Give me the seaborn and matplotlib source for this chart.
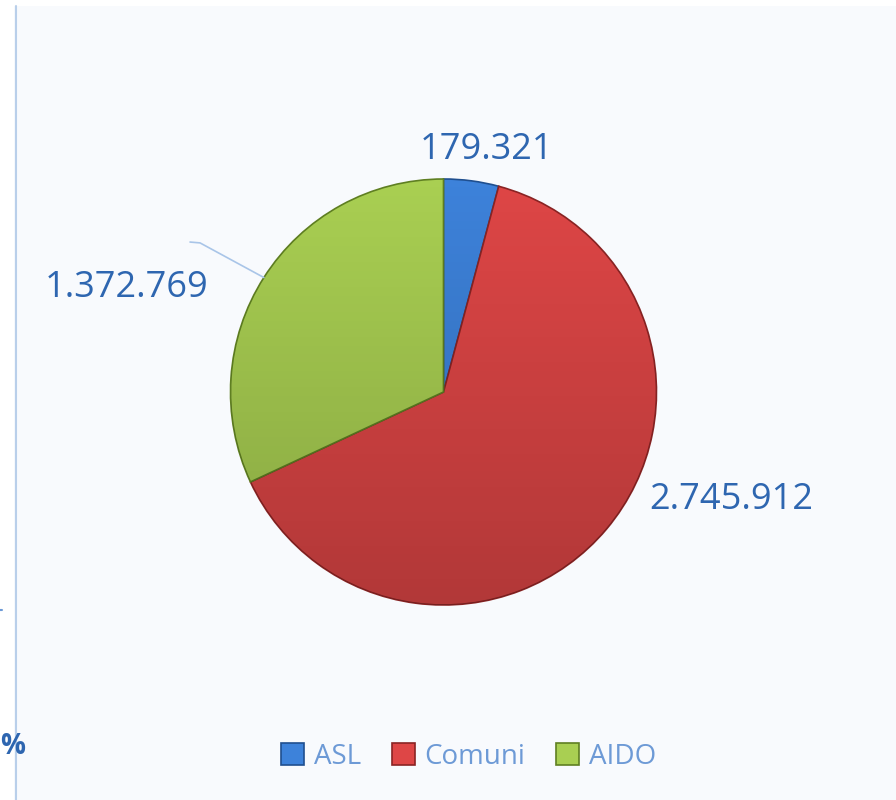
import matplotlib
matplotlib.use("Agg")
import matplotlib.pyplot as plt
import matplotlib.patches as mpatches
import seaborn as sns
import numpy as np

# Valori
categorie = ["ASL", "Comuni", "AIDO"]
valori = [179321, 2745912, 1372769]
etichette = ["179.321", "2.745.912", "1.372.769"]
colori = ["#3d82da", "#de4646", "#a9cf52"]
bordi = ["#1f4f8f", "#8a2424", "#5f7f22"]

sns.set_theme(style="white")
plt.rcParams['font.family'] = ['Open Sans', 'DejaVu Sans']

fig = plt.figure(figsize=(8.96, 8), dpi=100)
fig.patch.set_facecolor("white")

# pannello di sfondo e linea a sinistra
fig.patches.append(mpatches.Rectangle((14 / 896, 0), 1, 1 - 6 / 800, transform=fig.transFigure,
                                      facecolor="#f8fafd", edgecolor="none", zorder=-5))
fig.lines.append(plt.Line2D([15.5 / 896, 15.5 / 896], [0, 1 - 6 / 800], transform=fig.transFigure,
                            color="#b9cfea", lw=1.5, zorder=-4))
fig.lines.append(plt.Line2D([0, 2 / 896], [1 - 610 / 800, 1 - 610 / 800], transform=fig.transFigure,
                            color="#6d9ad6", lw=1.5, zorder=-4))
fig.text(13 / 896, 1 - 746 / 800, "%", ha="center", va="center", fontsize=20,
         fontweight="bold", color="#2e66b0")

ax = fig.add_axes([0, 0, 1, 1])
ax.set_facecolor("none")

r_px = 213
cx, cy = 443.5, 408  # centro della torta (px, dal basso)

wedges, _ = ax.pie(valori, colors=colori, startangle=90, counterclock=False,
                   wedgeprops=dict(linewidth=1.2))
for w, b in zip(wedges, bordi):
    w.set_edgecolor(b)

# ombreggiatura verticale (più scuro in basso)
gy = np.linspace(0, 1, 256)[:, None] * np.ones((1, 256))
shade = np.zeros((256, 256, 4))
shade[..., 3] = 0.2 * gy
im = ax.imshow(shade, extent=(-1, 1, -1, 1), zorder=3, origin="upper")
im.set_clip_path(mpatches.Circle((0, 0), 1, transform=ax.transData))

ax.set_aspect("auto")
ax.set_xlim(-cx / r_px, (896 - cx) / r_px)
ax.set_ylim(-cy / r_px, (800 - cy) / r_px)
ax.axis("off")

col_lab = "#2e66b0"
ax.text(0.20, 1.135, etichette[0], ha="center", va="center", fontsize=26, color=col_lab)
ax.text(1.35, -0.507, etichette[1], ha="center", va="center", fontsize=26, color=col_lab)
ax.text(-1.49, 0.488, etichette[2], ha="center", va="center", fontsize=26, color=col_lab)

# linea guida per AIDO, dal centro dello spicchio
w = wedges[2]
mid = np.deg2rad((w.theta1 + w.theta2) / 2)
px, py = np.cos(mid), np.sin(mid)
ax.plot([-1.19, -1.143, px], [0.704, 0.700, py], color="#a9c5e8", lw=1.2, zorder=4)

handles = [mpatches.Patch(facecolor=c, edgecolor=b, linewidth=1.2, label=l)
           for c, b, l in zip(colori, bordi, categorie)]
leg = fig.legend(handles=handles, loc="center", bbox_to_anchor=(0.523, 0.054), ncol=3,
                 frameon=False, fontsize=20, handlelength=0.83, handleheight=0.83,
                 handletextpad=0.36, columnspacing=1.08)
for t in leg.get_texts():
    t.set_color("#6d9ad6")

fig.savefig("out.png", dpi=100, facecolor=fig.get_facecolor())
